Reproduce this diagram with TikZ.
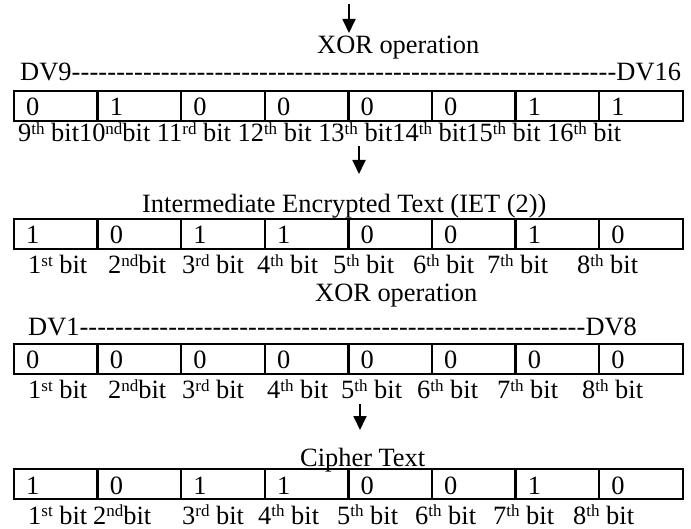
\documentclass[tikz,border=0pt]{standalone}
\usepackage{fontspec}
\setmainfont{Liberation Serif}
\usetikzlibrary{arrows.meta}
\newcommand\supx[1]{\raisebox{0.3em}{\fontsize{17}{17}\selectfont #1}}
\newcommand\hyfill[1]{\hbox to #1{\xleaders\hbox{-}\hfill}}
\newcommand\bitlab[1]{\ifcase#1\or1\supx{st} bit\or2\supx{nd}bit\or3\supx{rd} bit\else#1\supx{th} bit\fi}
\tikzset{
  txt/.style={inner sep=0pt, font=\fontsize{26.4}{30}\selectfont},
  cellbox/.style={draw, line width=2.3pt, minimum width=83.6pt, minimum height=30pt, inner sep=0pt},
  flow/.style={line width=1.8pt, -{Triangle[length=14pt,width=13pt]}},
}
\begin{document}
\begin{tikzpicture}[x=1pt,y=-1pt]
\useasboundingbox (0,0) rectangle (691,529);

% arrows
\coordinate (a1s) at (349,4);   \coordinate (a1e) at (349,33);
\coordinate (a2s) at (359,146); \coordinate (a2e) at (359,174);
\coordinate (a3s) at (360,404); \coordinate (a3e) at (360,430);
\draw[flow] (a1s) -- (a1e);
\draw[flow] (a2s) -- (a2e);
\draw[flow] (a3s) -- (a3e);

% headings
\node[txt, anchor=base west] (xor1) at (317,54) {XOR operation};
\node[txt, anchor=base west] (dv9) at (20,81) {DV9\hyfill{545pt}DV16};
\node[txt, anchor=base west] (iet) at (142,213) {Intermediate Encrypted Text (IET (2))};
\node[txt, anchor=base west] (xor2) at (315,302) {XOR operation};
\node[txt, anchor=base west] (dv1) at (28,336) {DV1\hyfill{506pt}DV8};
\node[txt, anchor=base west] (ciph) at (300,466) {Cipher Text};

% cells
\foreach \r/\ty/\vals in {1/91/{0,1,0,0,0,0,1,1}, 2/219/{1,0,1,1,0,0,1,0}, 3/344/{0,0,0,0,0,0,0,0}, 4/469/{1,0,1,1,0,0,1,0}}{
  \foreach \v [count=\i from 0] in \vals {
    \node[cellbox] (c\r-\i) at ({14+83.6*\i+41.8},{\ty+15}) {};
    \node[txt, anchor=base west] (d\r-\i) at ({14+83.6*\i+12},{\ty+25}) {\v};
  }
}

% bit labels
\node[txt, anchor=base west] (l1) at (18,142) {9\supx{th} bit10\supx{nd}bit 11\supx{rd} bit 12\supx{th} bit 13\supx{th} bit14\supx{th} bit15\supx{th} bit 16\supx{th} bit};
\foreach \x [count=\k] in {28,108,182,257,333,413,487,577}
  \node[txt, anchor=base west] (l2-\k) at (\x,274) {\bitlab{\k}};
\foreach \x [count=\k] in {28,108,182,267,341,417,497,582}
  \node[txt, anchor=base west] (l3-\k) at (\x,399) {\bitlab{\k}};
\foreach \x [count=\k] in {28,93,182,258,337,415,493,573}
  \node[txt, anchor=base west] (l4-\k) at (\x,524) {\bitlab{\k}};
\end{tikzpicture}
\end{document}
